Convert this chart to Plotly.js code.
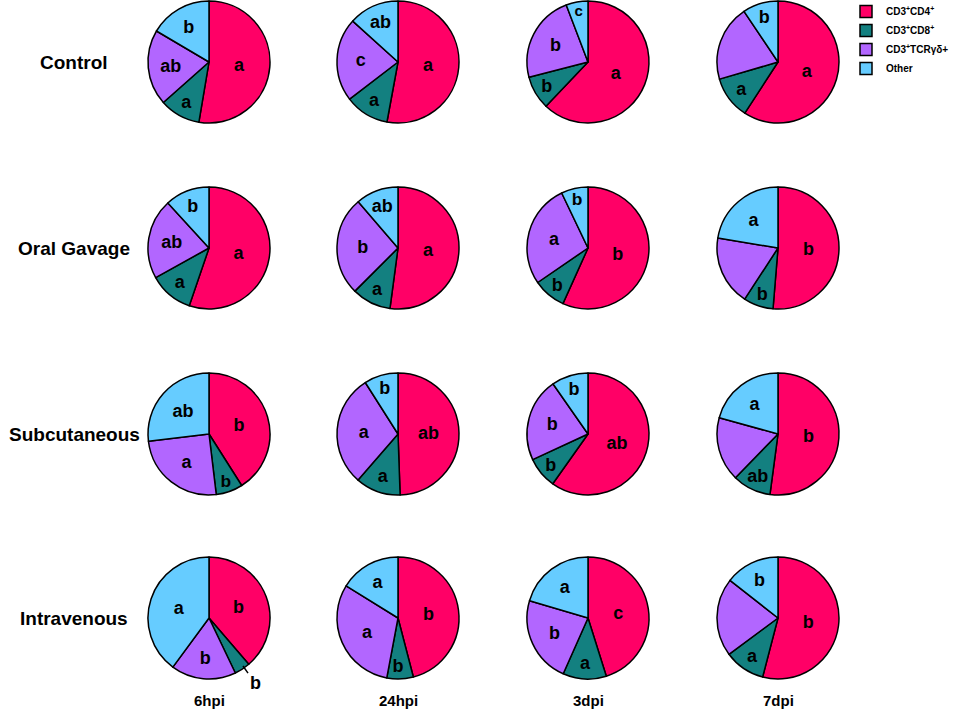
<!DOCTYPE html>
<html>
<head>
<meta charset="utf-8">
<script src="https://cdn.plot.ly/plotly-3.0.1.min.js"></script>
<style>
  html, body { margin: 0; padding: 0; background: #fff; }
  #chart { width: 957px; height: 717px; }
</style>
</head>
<body>
<div id="chart"></div>
<script>
// groups (rows) and time points (columns)
var routes = ['Control', 'Oral Gavage', 'Subcutaneous', 'Intravenous'];
var times = ['6hpi', '24hpi', '3dpi', '7dpi'];
var cellTypes = ['CD3<sup>+</sup>CD4<sup>+</sup>', 'CD3<sup>+</sup>CD8<sup>+</sup>', 'CD3<sup>+</sup>TCRγδ+', 'Other'];

// percent of T cells, one row per route, one value per time point
var cd4 = [[52.6, 52.9, 62.1, 59.1], [55.3, 52.1, 56.8, 51.3], [41.0, 49.4, 59.8, 52.1], [38.7, 46.0, 45.1, 54.0]];
var cd8 = [[10.8, 11.7, 8.9, 11.3], [11.7, 10.4, 8.7, 7.9], [7.1, 11.9, 8.3, 10.2], [4.2, 7.0, 11.5, 10.8]];
var tcrgd = [[20.0, 22.1, 23.2, 20.1], [21.3, 26.2, 27.5, 18.4], [25.0, 29.6, 22.2, 17.0], [17.2, 30.9, 22.9, 20.7]];
var other = [[16.5, 13.3, 5.8, 9.4], [11.8, 11.3, 7.1, 22.4], [26.9, 9.0, 9.7, 20.7], [39.9, 16.2, 20.4, 14.4]];

// significance letters, [CD4, CD8, TCRgd, Other] for each pie
var letters = [
  [['a', 'a', 'ab', 'b'], ['a', 'a', 'c', 'ab'], ['a', 'b', 'b', 'c'], ['a', 'a', '', 'b']],
  [['a', 'a', 'ab', 'b'], ['a', 'a', 'b', 'ab'], ['b', 'b', 'a', 'b'], ['b', 'b', '', 'a']],
  [['b', 'b', 'a', 'ab'], ['ab', 'a', 'a', 'b'], ['ab', 'b', 'b', 'b'], ['b', 'ab', '', 'a']],
  [['b', '', 'b', 'a'], ['b', 'b', 'a', 'a'], ['c', 'a', 'b', 'a'], ['b', 'a', '', 'b']]
];
// the tiny CD8 slice of Intravenous 6hpi gets its letter outside
var ivLetter = 'b';

var colors = ['#FF0066', '#138080', '#B266FF', '#66CCFF'];

var W = 957, H = 717;
var colX = [209, 398, 588, 778];
var rowY = [62, 248, 434, 618];
var R = 61;
var font = 'Arial, "Liberation Sans", sans-serif';

var data = [];
var legends = ['legend', 'legend2', 'legend3'];

for (var i = 0; i < routes.length; i++) {
  for (var j = 0; j < times.length; j++) {
    data.push({
      type: 'pie',
      labels: cellTypes,
      values: [cd4[i][j], cd8[i][j], tcrgd[i][j], other[i][j]],
      text: letters[i][j],
      textinfo: 'text',
      textposition: 'inside',
      insidetextorientation: 'horizontal',
      textfont: {family: font, size: 18, color: '#000', weight: 'bold'},
      sort: false,
      direction: 'clockwise',
      rotation: 0,
      marker: {colors: colors, line: {color: '#000', width: 1.5}},
      hoverinfo: 'none',
      showlegend: i < 3,
      legend: legends[Math.min(i, 2)],
      domain: {
        x: [(colX[j] - R) / W, (colX[j] + R) / W],
        y: [1 - (rowY[i] + R) / H, 1 - (rowY[i] - R) / H]
      }
    });
  }
}

var annotations = [];
routes.forEach(function (r, i) {
  annotations.push({
    text: r, xref: 'paper', yref: 'paper', x: 74 / W, y: 1 - rowY[i] / H,
    xanchor: 'center', yanchor: 'middle',
    showarrow: false, font: {family: font, size: 19, color: '#000', weight: 'bold'}
  });
});
times.forEach(function (t, j) {
  annotations.push({
    text: t, xref: 'paper', yref: 'paper', x: colX[j] / W, y: 1 - 700 / H,
    xanchor: 'center', yanchor: 'middle',
    showarrow: false, font: {family: font, size: 15, color: '#000', weight: 'bold'}
  });
});
annotations.push({
  text: ivLetter, xref: 'paper', yref: 'paper', x: 243 / W, y: 1 - 666 / H,
  ax: 12, ay: 17, showarrow: true, arrowhead: 0, arrowwidth: 1.5, arrowcolor: '#000',
  font: {family: font, size: 18, color: '#000', weight: 'bold'}
});

var legendStyle = function (top) {
  return {
    x: 846 / W, xanchor: 'left', y: 1 - top / H, yanchor: 'top',
    font: {family: font, size: 10, color: '#000', weight: 'bold'},
    bgcolor: 'rgba(0,0,0,0)', traceorder: 'normal'
  };
};

var layout = {
  width: W,
  height: H,
  margin: {l: 0, r: 0, t: 0, b: 0, autoexpand: false},
  paper_bgcolor: '#fff',
  font: {family: font},
  legend: legendStyle(-3),
  legend2: legendStyle(181),
  legend3: legendStyle(366),
  annotations: annotations
};

Plotly.newPlot('chart', data, layout, {displayModeBar: false, staticPlot: true});
</script>
</body>
</html>
